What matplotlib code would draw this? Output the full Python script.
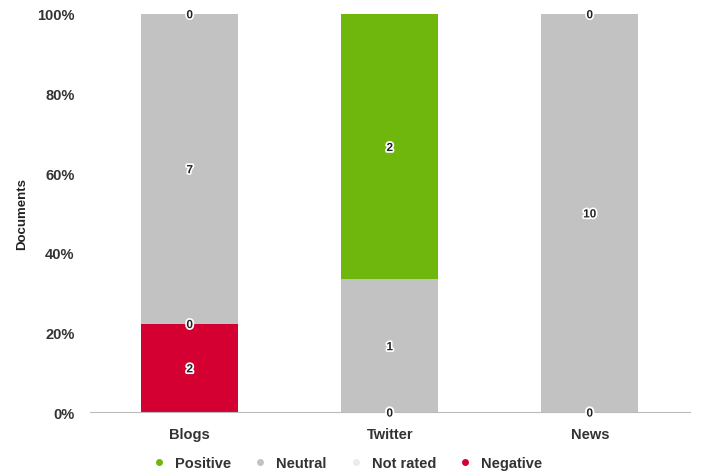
import matplotlib
matplotlib.use("Agg")
import matplotlib.pyplot as plt
import matplotlib.patheffects as pe
from matplotlib.lines import Line2D
import numpy as np

plt.rcParams["font.family"] = ["Liberation Sans", "DejaVu Sans"]

# ── Données ──────────────────────────────────────────────────────────────────
categories = ["Blogs", "Twitter", "News"]
negative   = [2, 0, 0]
not_rated  = [0, 0, 0]
neutral    = [7, 1, 10]
positive   = [0, 2, 0]

series = [
    ("Negative",  negative,  "#d50032"),
    ("Not rated", not_rated, "#ececec"),
    ("Neutral",   neutral,   "#c2c2c2"),
    ("Positive",  positive,  "#6fb70d"),
]
legend_order = ["Positive", "Neutral", "Not rated", "Negative"]

# ── Figure ───────────────────────────────────────────────────────────────────
fig = plt.figure(figsize=(7.01, 4.77), dpi=100)
ax = fig.add_axes([0.128, 0.134, 0.856, 0.835])

x = np.arange(len(categories))
totals = np.sum([s[1] for s in series], axis=0).astype(float)
bottom = np.zeros(len(categories))

for name, vals, color in series:
    pct = np.array(vals) / totals * 100
    ax.bar(x, pct, bottom=bottom, width=0.485, color=color, edgecolor="none", zorder=2)
    for xi, b, h, v in zip(x, bottom, pct, vals):
        ax.text(xi, b + h / 2, str(v), ha="center", va="center_baseline",
                fontsize=8.5, fontweight="bold", color="#222222", zorder=5,
                path_effects=[pe.withStroke(linewidth=2.5, foreground="white")])
    bottom += pct

ax.set_xlim(-0.5, 2.5)
ax.set_ylim(0, 100)
ax.set_yticks([0, 20, 40, 60, 80, 100])
ax.set_yticklabels([f"{v}%" for v in [0, 20, 40, 60, 80, 100]])
ax.set_xticks(x)
ax.set_xticklabels(categories)
ax.tick_params(axis="both", length=0, labelsize=10.5, labelcolor="#333333")
ax.tick_params(axis="y", pad=11)
ax.tick_params(axis="x", pad=11)
for lbl in ax.get_xticklabels() + ax.get_yticklabels():
    lbl.set_fontweight("bold")

for side in ["top", "right", "left"]:
    ax.spines[side].set_visible(False)
ax.spines["bottom"].set_color("#bbbbbb")
ax.spines["bottom"].set_linewidth(0.8)

ax.set_ylabel("Documents", fontsize=9.5, fontweight="bold", color="#222222", labelpad=6)

colors = {n: c for n, _, c in series}
handles = [Line2D([], [], marker="o", linestyle="none", markersize=5,
                  markerfacecolor=colors[n], markeredgecolor="none", label=n)
           for n in legend_order]
leg = fig.legend(handles=handles, loc="center", bbox_to_anchor=(0.49, 0.027),
                 ncol=4, frameon=False, fontsize=10.5, handletextpad=0.1,
                 columnspacing=1.0)
for t in leg.get_texts():
    t.set_fontweight("bold")
    t.set_color("#333333")

fig.savefig("out.png", dpi=100)
